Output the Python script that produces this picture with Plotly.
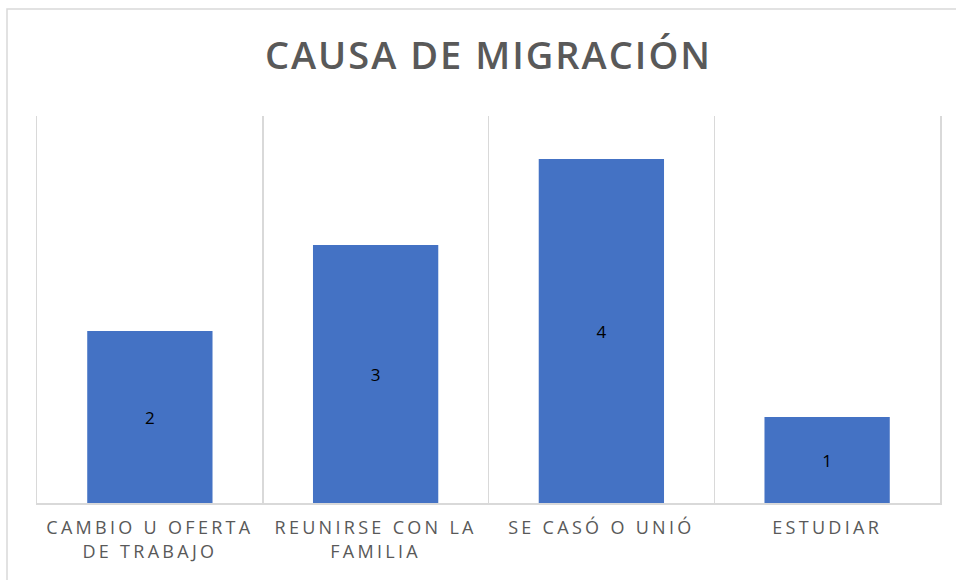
import plotly.graph_objects as go

categories = ["CAMBIO U OFERTA<br>DE TRABAJO", "REUNIRSE CON LA<br>FAMILIA", "SE CASÓ O UNIÓ", "ESTUDIAR"]
values = [2, 3, 4, 1]
title_text = "CAUSA DE MIGRACIÓN"

W, H = 956, 580
L, R, T, B = 37, 16, 116, 77
pw, ph = W - L - R, H - T - B

fig = go.Figure(go.Bar(
    x=categories, y=values,
    marker=dict(color="#4472C4", line=dict(width=0)),
    text=[str(v) for v in values], textposition="inside",
    insidetextanchor="middle",
    textfont=dict(family="Open Sans", size=17, color="#000000"),
    width=0.555,
))

fig.update_layout(
    width=W, height=H,
    margin=dict(l=L, r=R, t=T, b=B),
    paper_bgcolor="white", plot_bgcolor="white",
    showlegend=False,
    title=dict(text=title_text, xref="paper", x=0.5, xanchor="center", y=1 - 56 / H, yanchor="middle",
               font=dict(family="Open Sans", size=38, color="#595959", weight=600)),
    xaxis=dict(
        type="category", range=[-0.5, 3.5],
        tickson="boundaries", ticks="", showgrid=True, gridcolor="#d9d9d9", gridwidth=1.5,
        showline=True, linecolor="#d9d9d9", linewidth=1.5,
        tickfont=dict(family="Open Sans", size=18, color="#595959"),
        ticklabelstandoff=8,
        fixedrange=True,
    ),
    yaxis=dict(
        range=[0, 4.5], showgrid=False, showticklabels=False, zeroline=False,
        showline=True, mirror=True, linecolor="#d9d9d9", linewidth=1.5,
        fixedrange=True,
    ),
    shapes=[dict(
        type="rect", xref="paper", yref="paper",
        x0=(7 - L) / pw, x1=(W + 5 - L) / pw,
        y0=-(B + 5) / ph, y1=(H - 9 - B) / ph,
        line=dict(color="#d9d9d9", width=1.5), fillcolor="rgba(0,0,0,0)", layer="below",
    )],
)

post = """
document.body.style.margin='0';
var s=document.createElement('style');
s.textContent='body{margin:0;} .xtick text{letter-spacing:3.3px;} .gtitle{letter-spacing:2px;}';
document.head.appendChild(s);
"""
fig.write_html("out.html", post_script=post, config={"displayModeBar": False, "staticPlot": True})
